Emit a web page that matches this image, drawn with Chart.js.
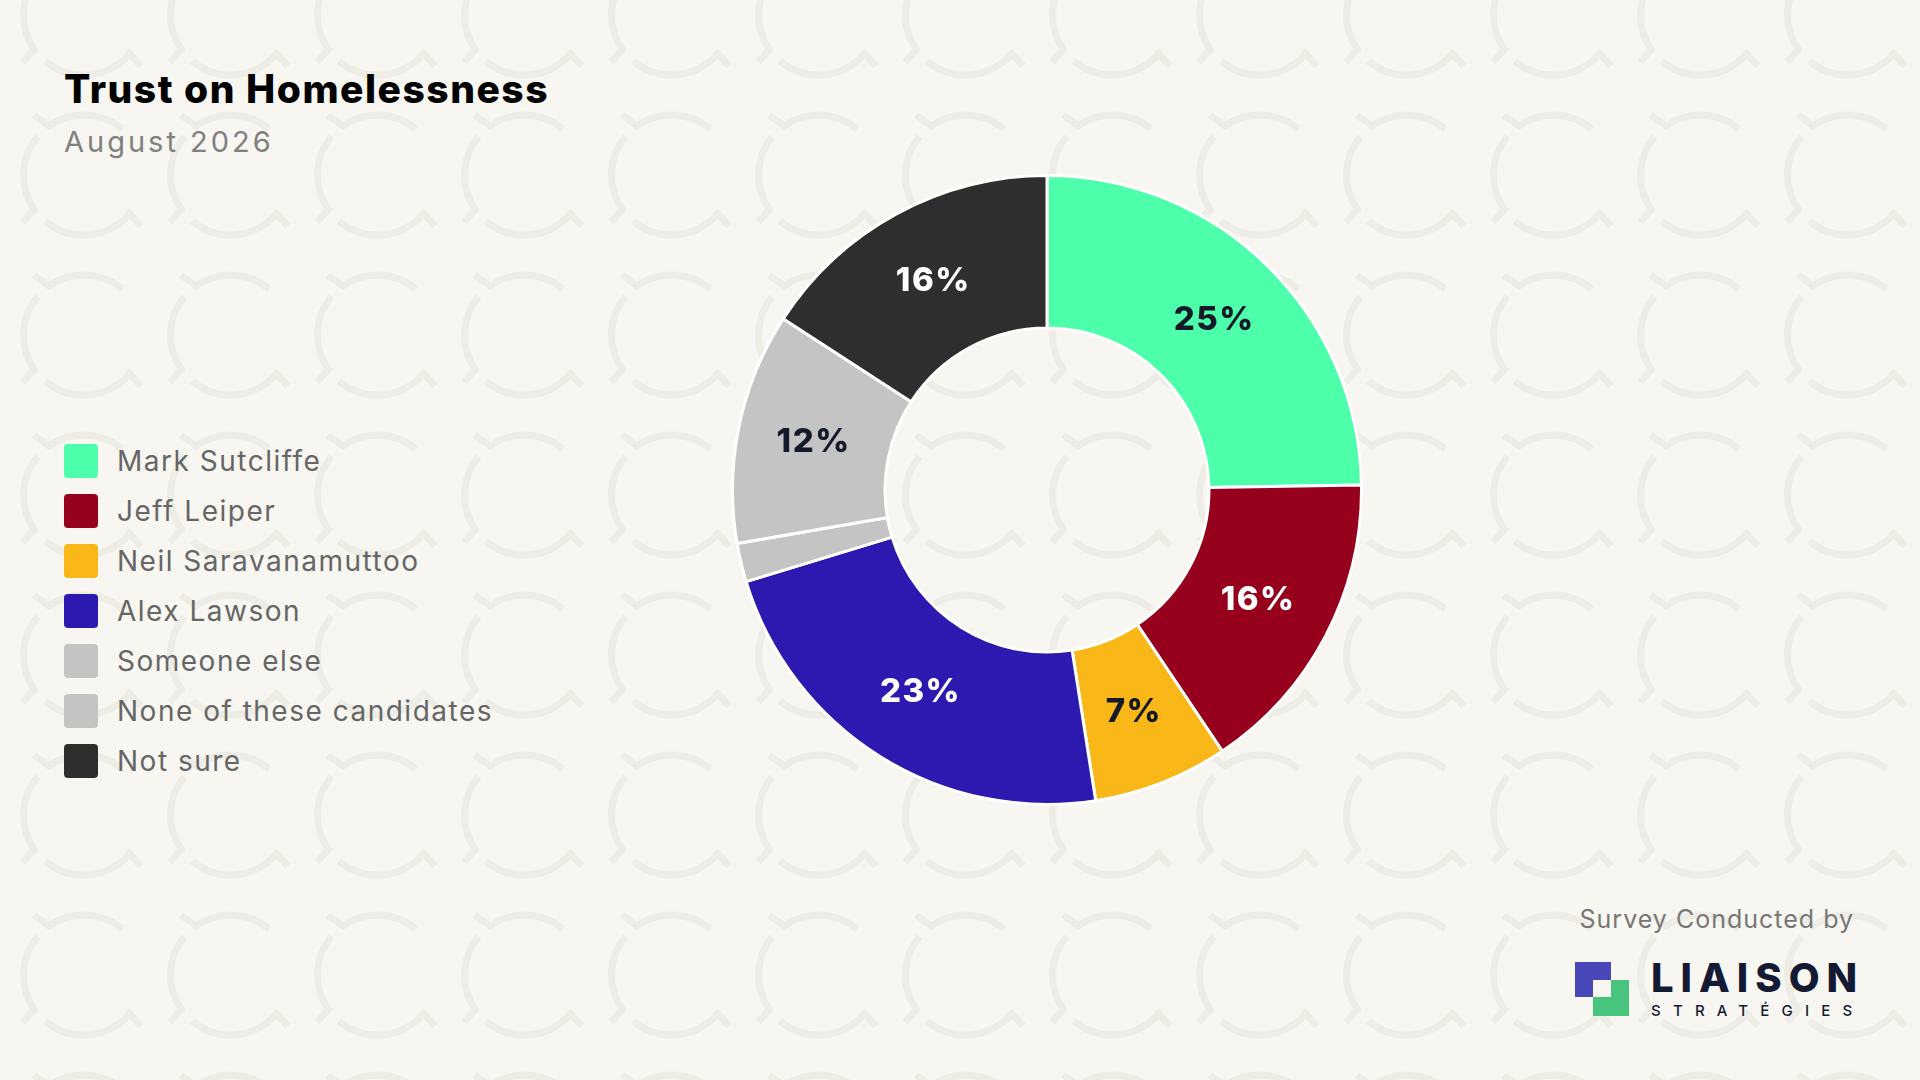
<!DOCTYPE html>
<html>
<head>
<meta charset="utf-8">
<title>Trust on Homelessness</title>
<script src="https://cdn.jsdelivr.net/npm/chart.js@4.4.1/dist/chart.umd.min.js"></script>
<style>
  html, body { margin: 0; padding: 0; }
  body {
    width: 1920px; height: 1080px; overflow: hidden; position: relative;
    background-color: #f7f6f1;
    background-image: url("data:image/svg+xml;utf8,<svg xmlns='http://www.w3.org/2000/svg' width='147' height='160'><g fill='none' stroke='%23edede6' stroke-width='7'><path d='M112.1 34 A60 60 0 0 0 39.1 30.9 L24 20'/><path d='M27.5 41.4 A60 60 0 0 0 24.4 114.4 L13 127'/><path d='M34.9 126 A60 60 0 0 0 119.5 118.6 L131 131'/></g></svg>");
    background-position: 10px -65px;
    font-family: Inter, "Noto Sans", sans-serif;
  }
  #title { position: absolute; left: 64px; top: 65px; font-size: 39px; font-weight: 800; color: #000; letter-spacing: 1.5px; }
  #subtitle { position: absolute; left: 64px; top: 124px; font-size: 29px; font-weight: 400; color: #808080; letter-spacing: 3px; }
  #legend { position: absolute; left: 64px; top: 444px; }
  .item { height: 50px; display: flex; align-items: flex-start; }
  .box { width: 34px; height: 34px; border-radius: 4px; }
  .txt { margin-left: 19px; font-size: 28px; color: #666; line-height: 34px; letter-spacing: 1.5px; }
  #wrap { position: absolute; left: 731px; top: 174px; width: 632px; height: 632px; }
  #credit { position: absolute; right: 66px; top: 904px; font-size: 25px; color: #777; letter-spacing: 1px; }
  #logo { position: absolute; left: 1575px; top: 962px; width: 290px; height: 60px; }
  .sq1 { position: absolute; left: 0; top: 0; width: 36px; height: 35px; background: #4a48b8; }
  .sq2 { position: absolute; left: 18px; top: 18px; width: 36px; height: 36px; background: #49c47e; }
  .sq3 { position: absolute; left: 18px; top: 18px; width: 18px; height: 17px; background: #f7f6f1; }
  .brand { position: absolute; left: 76px; top: -4px; font-size: 40px; font-weight: 800; color: #141a33; letter-spacing: 7px; line-height: 40px; }
  .sub { position: absolute; left: 76px; top: 41px; font-size: 15px; font-weight: 500; color: #141a33; letter-spacing: 12.2px; line-height: 15px; }
</style>
</head>
<body>
<div id="title">Trust on Homelessness</div>
<div id="subtitle">August 2026</div>
<div id="legend"></div>
<div id="wrap"><canvas id="myChart1"></canvas></div>
<div id="credit">Survey Conducted by</div>
<div id="logo">
  <div class="sq1"></div><div class="sq2"></div><div class="sq3"></div>
  <div class="brand">LIAISON</div>
  <div class="sub">STRATÉGIES</div>
</div>
<script>
var candidates = ["Mark Sutcliffe", "Jeff Leiper", "Neil Saravanamuttoo", "Alex Lawson", "Someone else", "None of these candidates", "Not sure"];
var trust_list = [25, 16, 7, 23, 2, 12, 16];
var sliceColors = ["#4dffaa", "#96001c", "#f9b818", "#2c1ab0", "#c4c4c4", "#c4c4c4", "#2e2e2e"];
var textColors = ["#141a2a", "#ffffff", "#141a2a", "#ffffff", "#141a2a", "#141a2a", "#ffffff"];

// legend on the left
var legend = document.getElementById("legend");
candidates.forEach(function(name, i){
  var row = document.createElement("div");
  row.className = "item";
  row.innerHTML = '<div class="box" style="background:' + sliceColors[i] + '"></div><div class="txt">' + name + '</div>';
  legend.appendChild(row);
});

var sliceLabels = {
  id: "sliceLabels",
  afterDatasetsDraw: function(chart){
    var ctx = chart.ctx;
    var meta = chart.getDatasetMeta(0);
    ctx.save();
    ctx.font = "800 33px Inter";
    ctx.letterSpacing = "1.5px";
    ctx.textAlign = "center";
    ctx.textBaseline = "middle";
    meta.data.forEach(function(arc, i){
      var v = trust_list[i];
      if(v < 5) return;
      var p = arc.tooltipPosition();
      ctx.fillStyle = textColors[i];
      ctx.fillText(v + "%", p.x, p.y);
    });
    ctx.restore();
  }
};

function trustChart(){
  if(window.donut1 != undefined)
    window.donut1.destroy();
  window.donut1 = new Chart(document.getElementById("myChart1"), {
    type: "doughnut",
    data: {
      labels: candidates,
      datasets: [{
        data: trust_list,
        backgroundColor: sliceColors,
        borderColor: "#ffffff",
        borderWidth: 3
      }]
    },
    options: {
      responsive: true,
      maintainAspectRatio: false,
      animation: false,
      cutout: "51.5%",
      layout: { padding: 0 },
      plugins: { legend: { display: false }, tooltip: { enabled: false } }
    },
    plugins: [sliceLabels]
  });
}
trustChart();
</script>
</body>
</html>
